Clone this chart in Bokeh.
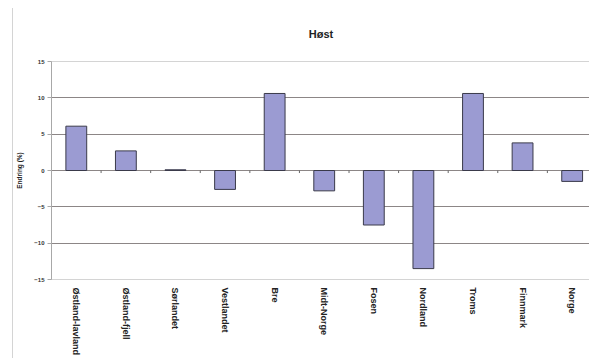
from bokeh.plotting import figure
from bokeh.models import Range1d, FixedTicker, ColumnDataSource, InlineStyleSheet
from bokeh.embed import file_html
from bokeh.resources import INLINE

categories = ["Østland-lavland", "Østland-fjell", "Sørlandet", "Vestlandet", "Bre",
              "Midt-Norge", "Fosen", "Nordland", "Troms", "Finnmark", "Norge"]
values = [6.1, 2.7, 0.1, -2.6, 10.6, -2.8, -7.5, -13.5, 10.6, 3.8, -1.5]
y_ticks = [-15, -10, -5, 0, 5, 10, 15]
title_text = "Høst"
y_label = "Endring (%)"

idx = list(range(len(categories)))
src = ColumnDataSource(dict(x=idx, top=values))

p = figure(width=577, height=350, output_backend="svg", toolbar_location=None,
           x_range=Range1d(-0.5, 10.37), y_range=Range1d(-15, 15),
           min_border_left=38, min_border_right=0, min_border_top=53, min_border_bottom=79)
p.margin = (8, 0, 0, 12)
p.stylesheets = [InlineStyleSheet(css=":host { border-left: 1px solid #d4d4d4 !important; }")]

p.title.text = title_text
p.title.align = "center"
p.title.vertical_align = "top"
p.title.text_font = "Liberation Sans"
p.title.text_font_size = "11px"
p.title.text_font_style = "bold"
p.title.text_color = "#222222"
p.title.offset = 0
p.title.standoff = 39

p.outline_line_color = "#d4d4d4"
p.background_fill_color = "white"
p.border_fill_color = "white"

p.vbar(x="x", top="top", bottom=0, width=0.42, source=src,
       fill_color="#9b9bd2", line_color="#3a3a4a", line_width=1)

# small category-boundary ticks on the zero line
bx = [i + 0.5 for i in idx[:-1]]
p.segment(x0=bx, y0=[0] * len(bx), x1=bx, y1=[-0.35] * len(bx),
          line_color="#666666", line_width=1)

p.xgrid.visible = False
p.ygrid.ticker = FixedTicker(ticks=[t for t in y_ticks if abs(t) < 15])
p.ygrid.grid_line_color = "#8c8686"
p.ygrid.grid_line_width = 1

ya = p.yaxis[0]
ya.ticker = FixedTicker(ticks=y_ticks)
ya.axis_line_color = "#a8a8a8"
ya.major_tick_line_color = "#a8a8a8"
ya.major_tick_in = 0
ya.major_tick_out = 4
ya.minor_tick_line_color = None
ya.major_label_text_font = "Liberation Sans"
ya.major_label_text_font_size = "6px"
ya.major_label_text_font_style = "bold"
ya.major_label_text_color = "#333333"
ya.major_label_standoff = 3
ya.axis_label = y_label
ya.axis_label_text_font = "Liberation Sans"
ya.axis_label_text_font_size = "6.5px"
ya.axis_label_text_font_style = "bold"
ya.axis_label_text_color = "#222222"
ya.axis_label_standoff = 8

xa = p.xaxis[0]
xa.ticker = FixedTicker(ticks=idx)
xa.major_label_overrides = {i: c for i, c in zip(idx, categories)}
xa.major_label_orientation = "vertical"
xa.axis_line_color = None
xa.major_tick_line_color = None
xa.major_tick_in = 0
xa.major_tick_out = 0
xa.minor_tick_line_color = None
xa.major_label_text_font = "Liberation Sans"
xa.major_label_text_font_size = "9px"
xa.major_label_text_font_style = "bold"
xa.major_label_text_color = "#222222"
xa.major_label_standoff = 8

open("out.html", "w").write(file_html(p, INLINE))
